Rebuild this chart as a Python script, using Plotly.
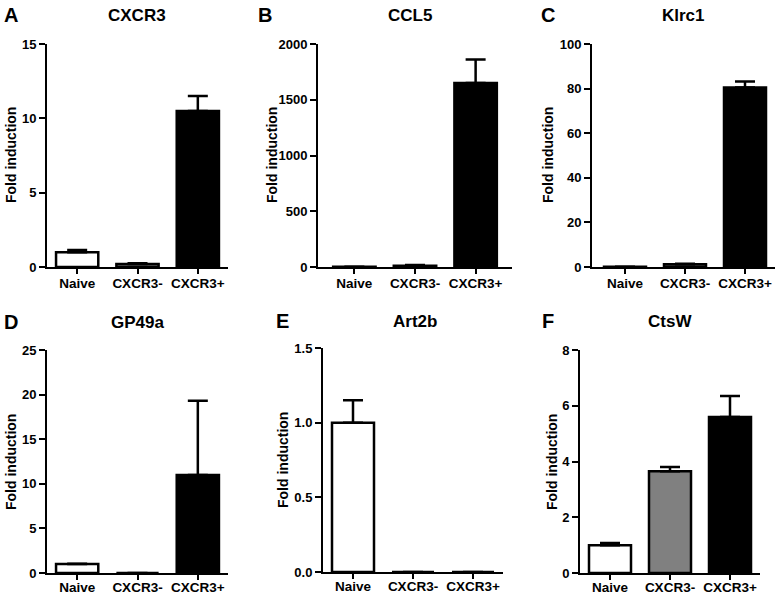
import plotly.graph_objects as go

W, H = 777, 595

categories = ["Naive", "CXCR3-", "CXCR3+"]
bar_colors = ["#ffffff", "#808080", "#000000"]

panel_letters = ["A", "B", "C", "D", "E", "F"]
panel_titles = ["CXCR3", "CCL5", "Klrc1", "GP49a", "Art2b", "CtsW"]

cxcr3_vals = [1.0, 0.2, 10.5]
cxcr3_err = [0.15, 0.05, 1.0]
ccl5_vals = [3, 12, 1650]
ccl5_err = [None, 5, 210]
klrc1_vals = [0.1, 1.2, 80.5]
klrc1_err = [None, 0.3, 2.7]
gp49a_vals = [1.0, 0, 11.0]
gp49a_err = [0.05, None, 8.3]
art2b_vals = [1.0, 0, 0]
art2b_err = [0.15, None, None]
ctsw_vals = [1.0, 3.65, 5.6]
ctsw_err = [0.08, 0.15, 0.75]

y_ranges = [15, 2000, 100, 25, 1.5, 8]
y_dticks = [5, 500, 20, 5, 0.5, 2]
y_tickformats = ["d", "d", "d", "d", ".1f", "d"]

values = [cxcr3_vals, ccl5_vals, klrc1_vals, gp49a_vals, art2b_vals, ctsw_vals]
errors = [cxcr3_err, ccl5_err, klrc1_err, gp49a_err, art2b_err, ctsw_err]

# layout in window pixels: (x_left, x_right, y_top, y_bottom), x range
boxes = [
    (47, 228, 44, 267, (-0.5, 2.5)),
    (318, 512, 44, 267, (-0.6, 2.6)),
    (592, 775, 44, 267, (-0.55, 2.5)),
    (47, 228, 350, 573, (-0.5, 2.5)),
    (323, 503, 348, 572, (-0.5, 2.5)),
    (580, 760, 350, 573, (-0.5, 2.5)),
]
label_standoff = [-2, -2, -2, -4, -4, -4]
title_pos = [(137, 15), (410, 15), (683, 15), (137, 322), (415, 321), (670, 321)]
letter_pos = [(11, 15), (265, 15), (548, 15), (11, 322), (282, 321), (548, 321)]
ytitle_pos = [(11, 155), (272, 155), (548, 155), (11, 462), (283, 460), (552, 462)]


def px_x(v):
    return v / W


def px_y(v):
    return 1 - v / H


FONT = "Arial, Liberation Sans, sans-serif"
fig = go.Figure()
layout = dict(
    width=W, height=H, margin=dict(l=0, r=0, t=0, b=0, autoexpand=False),
    paper_bgcolor="white", plot_bgcolor="white", showlegend=False,
    font=dict(family=FONT, color="black"),
)
annotations = []
for i in range(6):
    xl, xr, yt, yb, xr_rng = boxes[i]
    sfx = "" if i == 0 else str(i + 1)
    xa, ya = "x" + sfx, "y" + sfx
    fig.add_trace(go.Bar(
        x=[0, 1, 2], y=values[i], width=0.7,
        marker=dict(color=bar_colors, line=dict(color="black", width=2.5)),
        error_y=dict(type="data", symmetric=False, array=errors[i],
                     arrayminus=[0, 0, 0], color="black", thickness=2.5, width=10),
        xaxis=xa, yaxis=ya, cliponaxis=False, hoverinfo="skip",
    ))
    layout["xaxis" + sfx] = dict(
        domain=[px_x(xl), px_x(xr)], range=list(xr_rng), anchor=ya,
        tickvals=[0, 1, 2], ticktext=categories,
        showline=True, linecolor="black", linewidth=2, showgrid=False, zeroline=False,
        ticks="outside", ticklen=5, tickwidth=2, tickcolor="black",
        tickfont=dict(family=FONT, size=13.5, color="black", weight="bold"),
        ticklabelstandoff=label_standoff[i], fixedrange=True, automargin=False,
    )
    layout["yaxis" + sfx] = dict(
        domain=[px_y(yb), px_y(yt)], range=[0, y_ranges[i]], anchor=xa,
        dtick=y_dticks[i], tick0=0, tickformat=y_tickformats[i],
        showline=True, linecolor="black", linewidth=2, showgrid=False, zeroline=False,
        ticks="outside", ticklen=6, tickwidth=2, tickcolor="black",
        tickfont=dict(family=FONT, size=13, color="black", weight="bold"),
        fixedrange=True, automargin=False,
    )
    tx, ty = title_pos[i]
    annotations.append(dict(x=px_x(tx), y=px_y(ty), xref="paper", yref="paper",
                            text="<b>" + panel_titles[i] + "</b>", showarrow=False,
                            font=dict(family=FONT, size=17, color="black"),
                            xanchor="center", yanchor="middle"))
    lx, ly = letter_pos[i]
    annotations.append(dict(x=px_x(lx), y=px_y(ly), xref="paper", yref="paper",
                            text="<b>" + panel_letters[i] + "</b>", showarrow=False,
                            font=dict(family=FONT, size=20, color="black"),
                            xanchor="center", yanchor="middle"))
    yx, yy = ytitle_pos[i]
    annotations.append(dict(x=px_x(yx), y=px_y(yy), xref="paper", yref="paper",
                            text="<b>Fold induction</b>", showarrow=False, textangle=-90,
                            font=dict(family=FONT, size=14, color="black"),
                            xanchor="center", yanchor="middle"))
layout["annotations"] = annotations
fig.update_layout(**layout)
fig.write_html(
    "out.html",
    config={"displayModeBar": False, "staticPlot": True},
    post_script="document.body.style.margin='0';document.body.style.overflow='hidden';",
)
